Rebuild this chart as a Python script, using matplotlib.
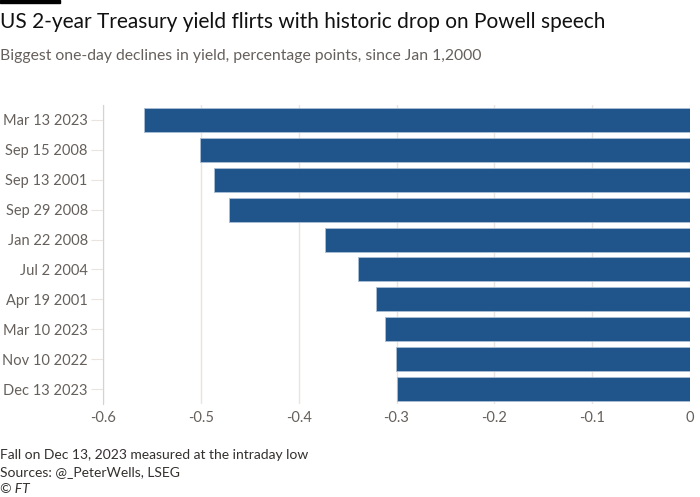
import numpy as np
import matplotlib.pyplot as plt
from matplotlib.patches import Rectangle

plt.rcParams['font.family'] = ['Lato', 'DejaVu Sans']

dates = ['Mar 13 2023', 'Sep 15 2008', 'Sep 13 2001', 'Sep 29 2008', 'Jan 22 2008',
         'Jul 2 2004', 'Apr 19 2001', 'Mar 10 2023', 'Nov 10 2022', 'Dec 13 2023']
declines = [-0.558, -0.501, -0.487, -0.471, -0.373,
            -0.339, -0.321, -0.312, -0.301, -0.299]
xticks = [-0.6, -0.5, -0.4, -0.3, -0.2, -0.1, 0]
xtick_labels = ['-0.6', '-0.5', '-0.4', '-0.3', '-0.2', '-0.1', '0']

BAR = '#1f558b'
TXT = '#66605c'
GRID = '#e9e4df'

fig = plt.figure(figsize=(7, 4.97), dpi=100)
ax = fig.add_axes([103/700, 1 - 404/497, (690-103)/700, (404-105)/497])

y = np.arange(len(dates))
ax.barh(y, declines, height=0.8, color=BAR, edgecolor='#a9bfd6', linewidth=0.6, zorder=3)
ax.set_ylim(len(dates) - 0.5, -0.5)
ax.set_xlim(-0.6, 0)
ax.set_yticks(y)
ax.set_yticklabels(dates)
ax.set_xticks(xticks)
ax.set_xticklabels(xtick_labels)

ax.grid(axis='x', color=GRID, linewidth=1, zorder=0)
for s in ['top', 'right', 'bottom']:
    ax.spines[s].set_visible(False)
ax.spines['left'].set_color('#d9d2ca')
ax.tick_params(axis='y', length=9, color=GRID, labelcolor=TXT, labelsize=10.5, pad=2)
ax.tick_params(axis='x', length=0, labelcolor=TXT, labelsize=10.5, pad=5)

fig.patches.append(Rectangle((0, 1 - 3/497), 60/700, 3/497, transform=fig.transFigure,
                             color='black'))
fig.text(0.0, 1 - 22/497, 'US 2-year Treasury yield flirts with historic drop on Powell speech',
         fontsize=15, color='#111111', va='center', ha='left')
fig.text(0.0, 1 - 56/497, 'Biggest one-day declines in yield, percentage points, since Jan 1,2000',
         fontsize=11.3, color=TXT, va='center', ha='left')
fig.text(0.0, 1 - 455/497, 'Fall on Dec 13, 2023 measured at the intraday low',
         fontsize=10, color='#33302e', va='center', ha='left')
fig.text(0.0, 1 - 472/497, 'Sources: @_PeterWells, LSEG',
         fontsize=10, color='#33302e', va='center', ha='left')
fig.text(0.0, 1 - 489/497, '© FT', fontsize=10, color='#33302e', va='center', ha='left',
         style='italic')

fig.savefig('out.png', dpi=100)
